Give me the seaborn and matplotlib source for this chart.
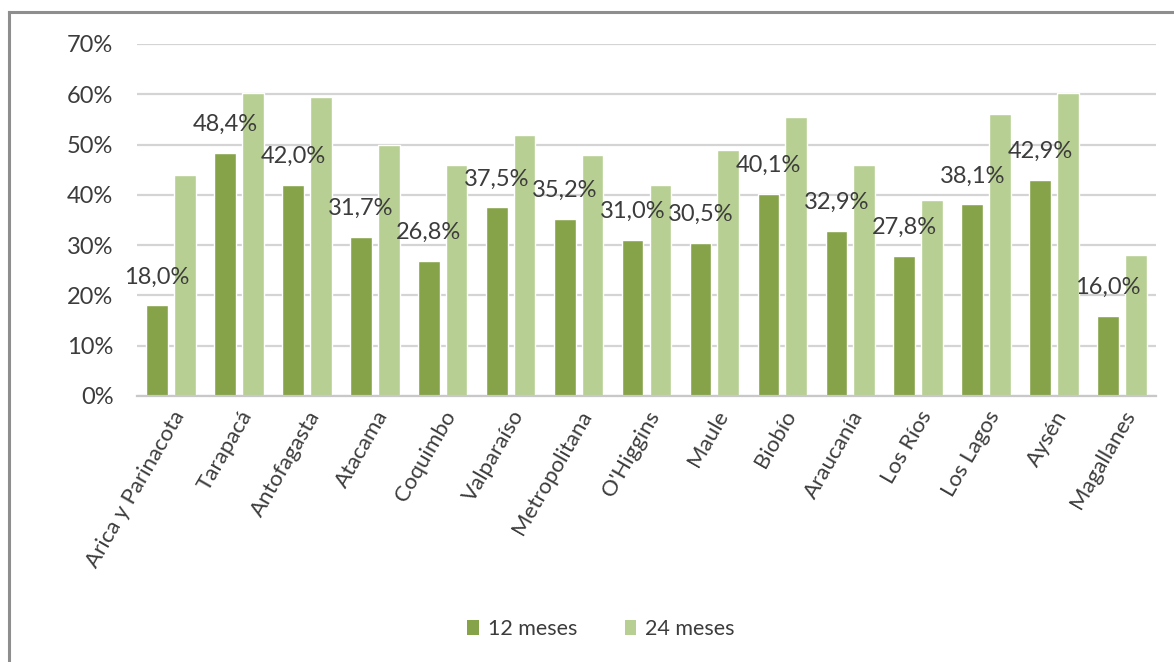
import matplotlib
matplotlib.use("Agg")
import matplotlib.pyplot as plt
from matplotlib.lines import Line2D
from matplotlib.patches import Patch
import seaborn as sns
import pandas as pd

regiones = ["Arica y Parinacota", "Tarapacá", "Antofagasta", "Atacama", "Coquimbo",
            "Valparaíso", "Metropolitana", "O'Higgins", "Maule", "Biobío",
            "Araucanía", "Los Ríos", "Los Lagos", "Aysén", "Magallanes"]
meses_12 = [18.0, 48.4, 42.0, 31.7, 26.8, 37.5, 35.2, 31.0, 30.5, 40.1,
            32.9, 27.8, 38.1, 42.9, 16.0]
meses_24 = [44.0, 60.2, 59.5, 50.0, 46.0, 52.0, 48.0, 42.0, 49.0, 55.5,
            46.0, 39.0, 56.0, 60.2, 28.0]
series = ["12 meses", "24 meses"]
y_ticks = [0, 10, 20, 30, 40, 50, 60, 70]

colores = {"12 meses": "#86A34A", "24 meses": "#B8CF93"}
texto = "#3C3C3C"

sns.set_theme(style="white")
plt.rcParams["font.family"] = ["Lato", "DejaVu Sans"]

df = pd.DataFrame({
    "region": regiones * 2,
    "serie": [series[0]] * len(regiones) + [series[1]] * len(regiones),
    "valor": meses_12 + meses_24,
})

W, H = 1174, 662
fig = plt.figure(figsize=(W / 100, H / 100), dpi=100)
fig.patch.set_facecolor("white")
ax = fig.add_axes([137 / W, 1 - 396 / H, (1156 - 137) / W, (396 - 44) / H])

sns.barplot(data=df, x="region", y="valor", hue="serie", palette=colores,
            width=0.82, gap=0.22, saturation=1, ax=ax, legend=False,
            errorbar=None)

ax.set_xlim(-0.5, len(regiones) - 0.5)
ax.set_ylim(0, 70)
ax.set_yticks(y_ticks)
ax.set_yticklabels([f"{t}%" for t in y_ticks])
ax.yaxis.grid(True, color="#D4D4D4", linewidth=1.6)
ax.set_axisbelow(True)
for lado in ["left", "right", "top"]:
    ax.spines[lado].set_visible(False)
ax.spines["bottom"].set_color("#C8C8C8")
ax.spines["bottom"].set_linewidth(1.6)
ax.set_xlabel("")
ax.set_ylabel("")
ax.tick_params(axis="y", length=0, pad=17, labelsize=17, labelcolor=texto)
ax.tick_params(axis="x", length=0, pad=8, labelsize=16, labelcolor=texto)
plt.setp(ax.get_xticklabels(), rotation=60, ha="right", rotation_mode="anchor")

# value labels above the 12-month bars
etiquetas = [f"{v:.1f}%".replace(".", ",") for v in meses_12]
ax.bar_label(ax.containers[0], labels=etiquetas, padding=13, fontsize=17,
             color=texto)

handles = [Patch(facecolor=colores[s], edgecolor="none") for s in series]
fig.legend(handles, series, loc="center", bbox_to_anchor=(601 / W, 1 - 629 / H),
           ncol=2, frameon=False, fontsize=15.5, labelcolor=texto,
           handlelength=0.55, handleheight=0.7, handletextpad=0.4,
           columnspacing=2.2)

# outer frame (top and left edges)
fig.add_artist(Line2D([8.5 / W, 8.5 / W], [0, 1 - 11.5 / H], transform=fig.transFigure,
                      color="#8E8E8E", linewidth=2.2, solid_capstyle="projecting"))
fig.add_artist(Line2D([8.5 / W, 1], [1 - 11.5 / H, 1 - 11.5 / H], transform=fig.transFigure,
                      color="#8E8E8E", linewidth=2.2, solid_capstyle="projecting"))

fig.savefig("out.png", dpi=100)
